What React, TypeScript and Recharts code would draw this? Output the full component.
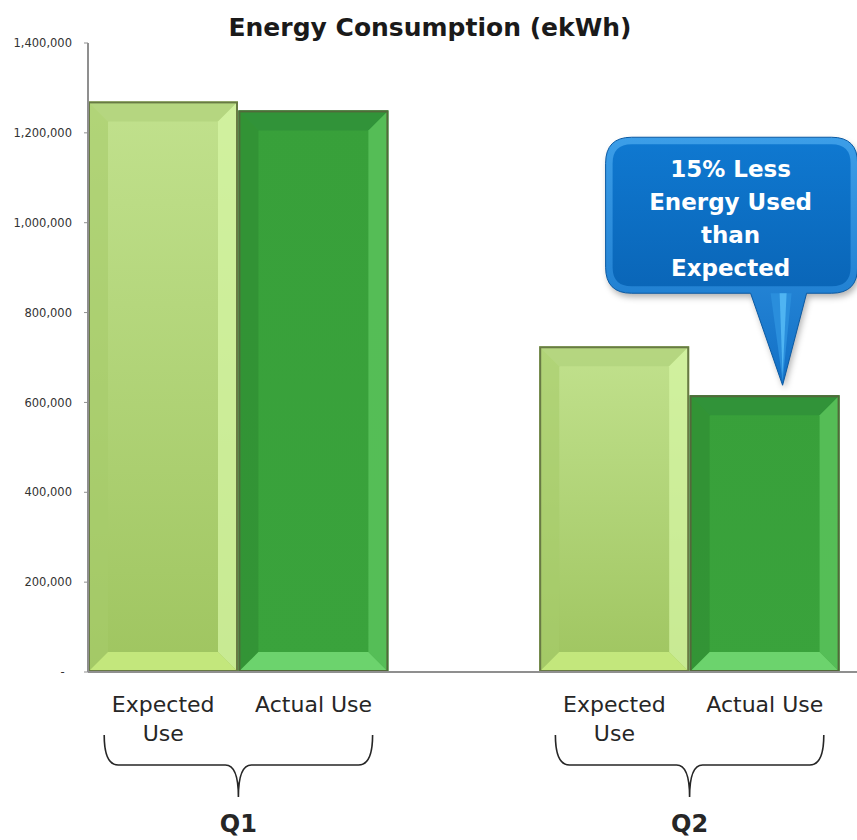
import React from 'react';
import { BarChart, Bar, XAxis, YAxis } from 'recharts';

// values
const quarters = ['Q1', 'Q2'];
const barLabels = ['Expected Use', 'Actual Use'];
const expectedUse = [1270000, 725000];
const actualUse = [1250000, 616000];
const yTicks = [0, 200000, 400000, 600000, 800000, 1000000, 1200000, 1400000];
const calloutLines = ['15% Less', 'Energy Used', 'than', 'Expected'];
const title = 'Energy Consumption (ekWh)';

const FONT = '"DejaVu Sans", sans-serif';
const TEXT = '#262626';

type Row = {
  key: string;
  kind: 'expected' | 'actual' | 'gap';
  quarter: string;
  label: string;
  expected: number | null;
  actual: number | null;
};

// one band per bar, with an empty band between the quarters
const rows: Row[] = [];
quarters.forEach((q, i) => {
  if (i > 0) rows.push({ key: 'gap' + i, kind: 'gap', quarter: '', label: '', expected: null, actual: null });
  rows.push({ key: q + '-exp', kind: 'expected', quarter: q, label: barLabels[0], expected: expectedUse[i], actual: null });
  rows.push({ key: q + '-act', kind: 'actual', quarter: q, label: barLabels[1], expected: null, actual: actualUse[i] });
});

// long labels go on two lines, like the original
const wrapLabel = (s: string) => {
  if (s.length <= 10) return [s];
  const cut = s.lastIndexOf(' ');
  return [s.slice(0, cut), s.slice(cut + 1)];
};

const EXPECTED_PAL = {
  id: 'exp',
  faceTop: '#c1e18d',
  faceBottom: '#9fc560',
  top: '#b2d37d',
  left: '#a6cb6a',
  right: '#d6f5a4',
  bottom: '#c6ea80',
  outline: '#687a44',
};
const ACTUAL_PAL = {
  id: 'act',
  faceTop: '#38a03a',
  faceBottom: '#3aa33c',
  top: '#30903a',
  left: '#2e8b32',
  right: '#5fc760',
  bottom: '#72d872',
  outline: '#52693a',
};

function BevelBar(props: any) {
  const { x, width, pal } = props;
  let { y, height } = props;
  if (!height || Math.abs(height) < 1) return null;
  if (height < 0) {
    y = y + height;
    height = -height;
  }
  const w = width;
  const h = height;
  const b = Math.min(20, w / 4, h / 4);
  const pts = (arr: number[][]) => arr.map((p) => p.join(',')).join(' ');
  return (
    <g>
      <defs>
        <linearGradient id={'face-' + pal.id} x1="0" y1="0" x2="0" y2="1">
          <stop offset="0%" stopColor={pal.faceTop} />
          <stop offset="100%" stopColor={pal.faceBottom} />
        </linearGradient>
      </defs>
      <rect x={x} y={y} width={w} height={h} fill={`url(#face-${pal.id})`} />
      <polygon points={pts([[x, y], [x + w, y], [x + w - b, y + b], [x + b, y + b]])} fill={pal.top} opacity={0.8} />
      <polygon points={pts([[x, y], [x + b, y + b], [x + b, y + h - b], [x, y + h]])} fill={pal.left} opacity={0.6} />
      <polygon points={pts([[x + w, y], [x + w, y + h], [x + w - b, y + h - b], [x + w - b, y + b]])} fill={pal.right} opacity={0.75} />
      <polygon points={pts([[x, y + h], [x + w, y + h], [x + w - b, y + h - b], [x + b, y + h - b]])} fill={pal.bottom} opacity={0.9} />
      <rect x={x + 1} y={y + 1} width={w - 2} height={h - 2} fill="none" stroke={pal.outline} strokeWidth={2} />
    </g>
  );
}

function Callout(props: any) {
  const { x, y, width, index } = props;
  if (index !== rows.length - 1 || y == null) return null;
  const tx = x + width / 2 + 18;
  const ty = y - 10;
  const left = tx - 177;
  const right = tx + 75;
  const top = ty - 248;
  const bottom = ty - 92;
  const r = 26;
  const outer = `M${left + r},${top} H${right - r} Q${right},${top} ${right},${top + r} V${bottom - r} Q${right},${bottom} ${right - r},${bottom} H${tx + 24} L${tx},${ty} L${tx - 32},${bottom} H${left + r} Q${left},${bottom} ${left},${bottom - r} V${top + r} Q${left},${top} ${left + r},${top} Z`;
  const i = 7;
  const inner = `M${left + r},${top + i} H${right - r} Q${right - i},${top + i} ${right - i},${top + r} V${bottom - r} Q${right - i},${bottom - i} ${right - r},${bottom - i} H${left + r} Q${left + i},${bottom - i} ${left + i},${bottom - r} V${top + r} Q${left + i},${top + i} ${left + r},${top + i} Z`;
  const cx = tx - 52;
  return (
    <g>
      <defs>
        <linearGradient id="callout-edge" x1="0" y1="0" x2="0" y2="1">
          <stop offset="0%" stopColor="#3c9ee8" />
          <stop offset="100%" stopColor="#1270c6" />
        </linearGradient>
        <linearGradient id="callout-face" x1="0" y1="0" x2="0" y2="1">
          <stop offset="0%" stopColor="#0f78d0" />
          <stop offset="100%" stopColor="#0a66b8" />
        </linearGradient>
        <filter id="callout-shadow" x="-20%" y="-20%" width="140%" height="140%">
          <feGaussianBlur stdDeviation="3" />
        </filter>
      </defs>
      <path d={outer} transform="translate(2,4)" fill="rgba(0,0,0,0.3)" filter="url(#callout-shadow)" />
      <path d={outer} fill="url(#callout-edge)" stroke="#0b5aa3" strokeWidth={1} />
      <path d={inner} fill="url(#callout-face)" />
      <polygon points={`${tx - 12},${bottom} ${tx},${ty - 4} ${tx + 9},${bottom}`} fill="#2a8edc" />
      <polygon points={`${tx - 3},${bottom} ${tx},${ty - 10} ${tx + 4},${bottom}`} fill="#4fb4f2" />
      {calloutLines.map((line, k) => (
        <text
          key={k}
          x={cx}
          y={ty - 208 + k * 33}
          textAnchor="middle"
          fill="#ffffff"
          fontFamily={FONT}
          fontWeight="bold"
          fontSize={23}
        >
          {line}
        </text>
      ))}
    </g>
  );
}

function BarTick(props: any) {
  const { x, y, payload } = props;
  const row = rows.find((r) => r.key === payload.value);
  if (!row || row.kind === 'gap') return null;
  const band = payload.offset ? payload.offset * 2 : 150;
  const top = y;
  let brace = null;
  if (row.kind === 'expected') {
    const l = x - 59;
    const m = x + band / 2;
    const rr = x + band + 59;
    const d = `M${l},${top + 63} Q${l},${top + 93} ${l + 14},${top + 93} L${m - 13},${top + 93} Q${m},${top + 93} ${m},${top + 125} Q${m},${top + 93} ${m + 13},${top + 93} L${rr - 14},${top + 93} Q${rr},${top + 93} ${rr},${top + 63}`;
    brace = (
      <g>
        <path d={d} fill="none" stroke={TEXT} strokeWidth={1.6} />
        <text x={m} y={top + 160} textAnchor="middle" fill={TEXT} fontFamily={FONT} fontWeight="bold" fontSize={24}>
          {row.quarter}
        </text>
      </g>
    );
  }
  return (
    <g>
      {wrapLabel(row.label).map((line, k) => (
        <text
          key={k}
          x={x}
          y={top + 40 + k * 29}
          textAnchor="middle"
          fill={TEXT}
          fontFamily={FONT}
          fontSize={22}
        >
          {line}
        </text>
      ))}
      {brace}
    </g>
  );
}

const formatY = (v: number) => (v === 0 ? '-\u00a0\u00a0' : v.toLocaleString('en-US'));

export default function App() {
  return (
    <div style={{ position: 'absolute', left: 0, top: 0, width: 857, height: 840, background: '#fff' }}>
      <svg width={857} height={50} style={{ position: 'absolute', left: 0, top: 0 }}>
        <text x={430} y={36} textAnchor="middle" fill="#1a1a1a" fontFamily={FONT} fontWeight="bold" fontSize={25}>
          {title}
        </text>
      </svg>
      <BarChart
        width={857}
        height={840}
        data={rows}
        margin={{ top: 43, right: 0, left: 8, bottom: 0 }}
        barCategoryGap={0}
        barGap={0}
      >
        <XAxis
          dataKey="key"
          interval={0}
          height={168}
          tickLine={false}
          tickSize={0}
          tickMargin={0}
          padding={{ left: 0, right: 17 }}
          axisLine={{ stroke: '#8f8f8f', strokeWidth: 2 }}
          tick={<BarTick />}
        />
        <YAxis
          type="number"
          domain={[0, 1400000]}
          ticks={yTicks}
          interval={0}
          width={80}
          tickSize={4}
          tickMargin={12}
          tickFormatter={formatY}
          axisLine={{ stroke: '#8f8f8f', strokeWidth: 2 }}
          tickLine={{ stroke: '#8f8f8f' }}
          tick={{ fill: '#333', fontSize: 11.5, fontFamily: FONT }}
        />
        <Bar
          dataKey="expected"
          stackId="q"
          isAnimationActive={false}
          shape={(p: any) => <BevelBar {...p} pal={EXPECTED_PAL} />}
        />
        <Bar
          dataKey="actual"
          stackId="q"
          isAnimationActive={false}
          shape={(p: any) => <BevelBar {...p} pal={ACTUAL_PAL} />}
          label={(p: any) => <Callout {...p} />}
        />
      </BarChart>
    </div>
  );
}
